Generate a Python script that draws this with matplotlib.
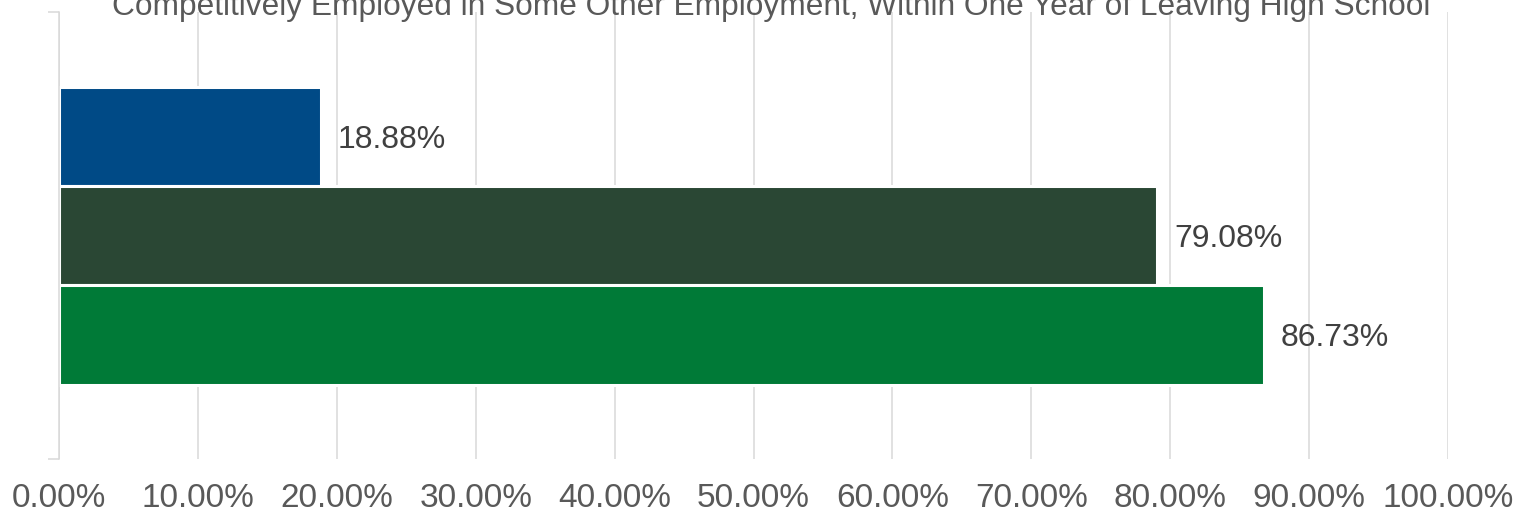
import matplotlib.pyplot as plt
from matplotlib.ticker import FuncFormatter

plt.rcParams['font.family'] = ['Liberation Sans', 'DejaVu Sans']

# data
series = ["Series A", "Series B", "Series C"]
values = [18.88, 79.08, 86.73]
colors = ["#004A86", "#2A4734", "#007A37"]
title = "Competitively Employed in Some Other Employment, Within One Year of Leaving High School"
x_ticks = [0, 10, 20, 30, 40, 50, 60, 70, 80, 90, 100]

GRID = "#D9D9D9"

fig = plt.figure(figsize=(15.22, 5.12), dpi=100)
ax = fig.add_axes([59 / 1522, 1 - 459 / 512, (1448 - 59) / 1522, 447 / 512])

pos = list(range(len(values)))
ax.barh(pos, values, height=1.0, color=colors, edgecolor="white", linewidth=2.2, zorder=2)

for p, v in zip(pos, values):
    ax.annotate(f"{v:.2f}%", (v, p), xytext=(12, 0), textcoords="offset points",
                va="center_baseline", ha="left", fontsize=23, color="#404040")

ax.set_xlim(0, 100)
ax.set_ylim(len(values) - 1 + 1.25, -1.25)
ax.set_xticks(x_ticks)
ax.xaxis.set_major_formatter(FuncFormatter(lambda x, _: f"{x:.2f}%"))
ax.tick_params(axis="x", length=0, pad=17, labelsize=24, labelcolor="#595959")
ax.set_yticks(list(ax.get_ylim()))
ax.set_yticklabels([])
ax.tick_params(axis="y", length=8, width=1.1, color=GRID)

ax.grid(axis="x", color=GRID, linewidth=1.1)
ax.set_axisbelow(True)
for s in ["top", "right", "bottom"]:
    ax.spines[s].set_visible(False)
ax.spines["left"].set_color(GRID)
ax.spines["left"].set_linewidth(1.1)

fig.text(771 / 1522, 1 - 14.5 / 512, title, ha="center", va="baseline",
         fontsize=22.8, color="#595959")

fig.savefig("out.png", dpi=100)
